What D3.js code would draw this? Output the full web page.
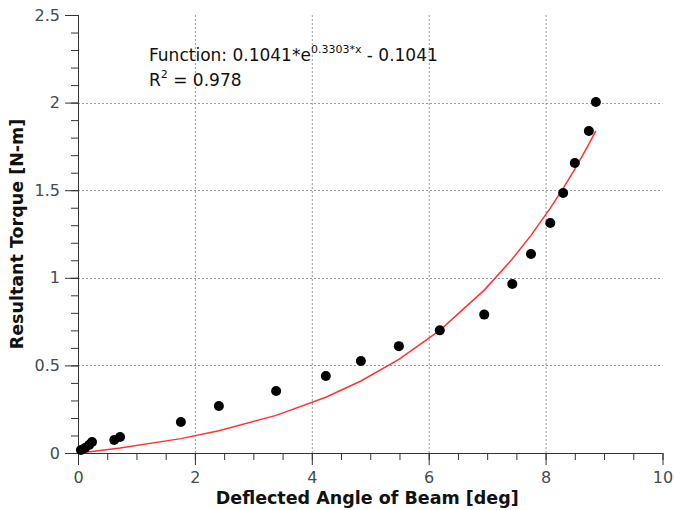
<!DOCTYPE html>
<html><head><meta charset="utf-8">
<script src="https://cdn.jsdelivr.net/npm/d3@7"></script>
<style>
html,body{margin:0;padding:0;background:#fff;}
svg{display:block;font-family:"DejaVu Sans",sans-serif;}
</style></head>
<body>
<svg id="chart" width="674" height="510"></svg>
<script>
// Data
const angleDeg = [0.05,0.12,0.19,0.24,0.62,0.72,1.76,2.41,3.39,4.24,4.84,5.49,6.19,6.95,7.43,7.75,8.08,8.30,8.50,8.74,8.86];
const torqueNm = [0.017,0.029,0.046,0.063,0.074,0.091,0.177,0.268,0.354,0.44,0.525,0.61,0.70,0.79,0.965,1.136,1.313,1.484,1.655,1.838,2.003];
// Fit shown on the chart: a*e^(b*x) - a
const fitA = 0.1041, fitB = 0.3303;
const xTicks = [0,2,4,6,8,10];
const yTicks = [0,0.5,1,1.5,2,2.5];
const xTickLabels = ["0","2","4","6","8","10"];
const yTickLabels = ["0","0.5","1","1.5","2","2.5"];
const xLabel = "Deflected Angle of Beam [deg]";
const yLabel = "Resultant Torque [N-m]";

const svg = d3.select("#chart");
const x = d3.scaleLinear().domain([0,10]).range([78,662.5]);
const y = d3.scaleLinear().domain([0,2.5]).range([453,15]);

// grid
const grid = svg.append("g");
grid.selectAll("line.vx").data([2,4,6,8]).join("line")
  .attr("x1",d=>x(d)+0.5).attr("x2",d=>x(d)+0.5).attr("y1",y(2.5)).attr("y2",y(0))
  .attr("stroke","#9a9a9a").attr("stroke-dasharray","2,2").attr("stroke-width",1);
grid.selectAll("line.hy").data([0.5,1,1.5,2]).join("line")
  .attr("x1",x(0)).attr("x2",x(10)).attr("y1",d=>Math.round(y(d))+0.5).attr("y2",d=>Math.round(y(d))+0.5)
  .attr("stroke","#9a9a9a").attr("stroke-dasharray","2,2").attr("stroke-width",1);

// axes
const tickColor = "#454a52";
const xMinor = d3.range(0,10.01,0.5);
const yMinor = d3.range(0,2.501,0.1);
const xAxisG = svg.append("g").attr("transform",`translate(0,${y(0)})`)
  .call(d3.axisBottom(x).tickValues(xMinor).tickSize(7).tickFormat(""));
xAxisG.select(".domain").remove();
const xMajor = svg.append("g").attr("transform",`translate(0,${y(0)})`)
  .call(d3.axisBottom(x).tickValues(xTicks).tickSize(12).tickPadding(7)
    .tickFormat((d,i)=>xTickLabels[i]));
xMajor.select(".domain").attr("d",`M${x(0)},0.5H${x(10)}`).attr("stroke","#333");
xMajor.selectAll("text").attr("font-size",16).attr("fill",tickColor).attr("font-family","DejaVu Sans");

const yAxisG = svg.append("g").attr("transform",`translate(${x(0)},0)`)
  .call(d3.axisLeft(y).tickValues(yMinor).tickSize(7).tickFormat(""));
yAxisG.select(".domain").remove();
const yMajor = svg.append("g").attr("transform",`translate(${x(0)},0)`)
  .call(d3.axisLeft(y).tickValues(yTicks).tickSize(13).tickPadding(5)
    .tickFormat((d,i)=>yTickLabels[i]));
yMajor.select(".domain").attr("d",`M0.5,${y(2.5)}V${y(0)}`).attr("stroke","#333");
yMajor.selectAll("text").attr("font-size",16).attr("fill",tickColor).attr("font-family","DejaVu Sans");
svg.selectAll(".tick line").attr("stroke","#333");

// fit line at data x positions
const fitX = [0].concat(angleDeg);
const line = d3.line().x(d=>x(d)).y(d=>y(fitA*Math.exp(fitB*d)-fitA));
svg.append("path").datum(fitX).attr("d",line).attr("fill","none")
  .attr("stroke","#ff3333").attr("stroke-width",1.5);

// points
svg.append("g").selectAll("circle").data(angleDeg).join("circle")
  .attr("cx",d=>x(d)).attr("cy",(d,i)=>y(torqueNm[i])).attr("r",5).attr("fill","#000");

// annotation
const ann = svg.append("text").attr("x",149).attr("y",61).attr("font-size",17).attr("fill","#111");
ann.append("tspan").text("Function: 0.1041*e");
ann.append("tspan").attr("dy",-8).attr("font-size",11).text("0.3303*x");
ann.append("tspan").attr("dy",8).text(" - 0.1041");
const r2 = svg.append("text").attr("x",149).attr("y",86).attr("font-size",17).attr("fill","#111");
r2.append("tspan").text("R");
r2.append("tspan").attr("dy",-8).attr("font-size",11).text("2");
r2.append("tspan").attr("dy",8).text(" = 0.978");

// axis labels
svg.append("text").attr("x",(x(0)+x(10))/2 - 3).attr("y",504).attr("text-anchor","middle")
  .attr("font-size",17.5).attr("font-weight","bold").attr("fill","#111").text(xLabel);
svg.append("text").attr("transform",`translate(23,${(y(0)+y(2.5))/2}) rotate(-90)`)
  .attr("text-anchor","middle").attr("font-size",17.5).attr("font-weight","bold").attr("fill","#111").text(yLabel);
</script>
</body></html>
